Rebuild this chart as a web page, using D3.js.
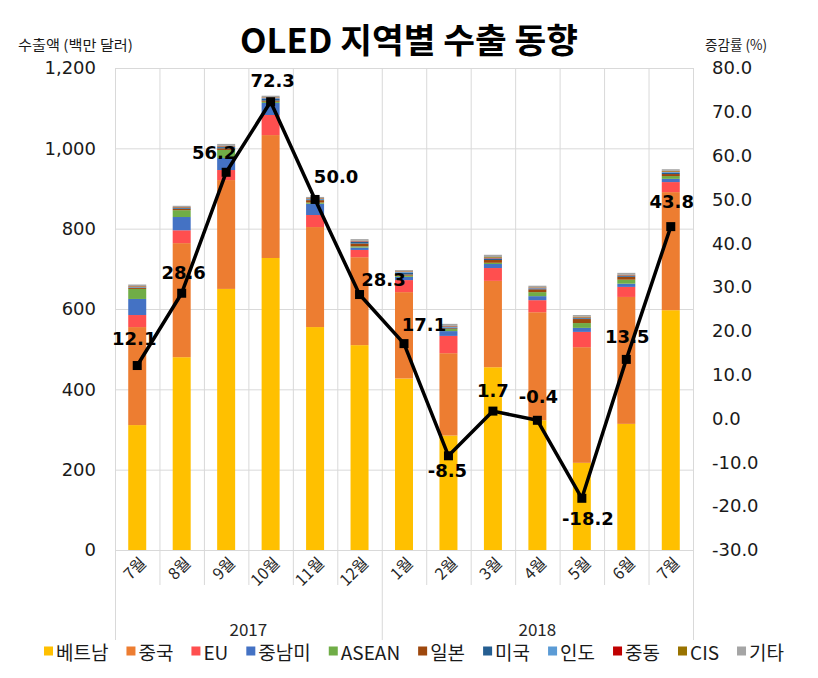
<!DOCTYPE html>
<html><head><meta charset="utf-8">
<script src="https://cdn.jsdelivr.net/npm/d3@7"></script>
<style>
body{margin:0;background:#fff;}
svg{display:block;}
</style></head>
<body>
<svg id="chart" width="818" height="678"></svg>
<script>
// ---- data ----
const months = ["7월","8월","9월","10월","11월","12월","1월","2월","3월","4월","5월","6월","7월"];
const years = [{label:"2017", from:0, to:6},{label:"2018", from:6, to:13}];
const seriesNames = ["베트남","중국","EU","중남미","ASEAN","일본","미국","인도","중동","CIS","기타"];
const vietnam = [311,480,650,727,555,510,427,285,455,323,217,314,597];
const china   = [244,284,271,306,249,219,215,205,215,269,288,316,294];
const eu      = [30,32,25,50,30,18,30,43,32,30,38,25,25];
const latam   = [40,33,30,30,28,6,8,12,10,10,10,8,8];
const asean   = [25,17,20,3,3,3,3,5,3,10,12,10,7];
const japan   = [3,3,4,3,6,7,3,2,7,7,10,7,5];
const usa     = [1,2,3,4,2,4,4,2,3,2,2,2,3];
const india   = [1,1,1,2,1,1,2,2,1,1,1,1,2];
const mideast = [1,1,1,1,1,1,1,1,1,1,1,1,1];
const cis     = [1,1,1,1,1,1,1,1,2,1,2,1,2];
const others  = [4,3,5,4,3,4,3,5,6,4,4,5,4];
const growth  = [12.1,28.6,56.2,72.3,50.0,28.3,17.1,-8.5,1.7,-0.4,-18.2,13.5,43.8];
const leftTicks = [0,200,400,600,800,1000,1200];
const rightTicks = [80,70,60,50,40,30,20,10,0,-10,-20,-30];
const colors = ["#FFC000","#ED7D31","#FF4F4F","#4472C4","#70AD47","#9E480E","#255E91","#5B9BD5","#C00000","#997300","#A5A5A5"];
// label placement offsets (annotation layout, px)
const labelDx = [-3,2,-12,2,21,24,20,-1,0,1,6,1,1];
const labelDy = [-27,-21,-20,-21,-23,-15,-19,15,-21,-24,20,-23,-25];

const seriesValues = [vietnam,china,eu,latam,asean,japan,usa,india,mideast,cis,others];

// ---- layout ----
const svg = d3.select("#chart");
const L = 115, R = 693, T = 68, B = 550;
const x = d3.scaleBand().domain(d3.range(months.length)).range([L,R]).paddingInner(0).paddingOuter(0);
const yL = d3.scaleLinear().domain([0,1200]).range([B,T]);
const yR = d3.scaleLinear().domain([-30,80]).range([B,T]);
const barW = 18;
const gridC = "#d9d9d9";
const tickFont = "'DejaVu Sans', Verdana, sans-serif";
const krFont = "'Noto Sans CJK KR', 'Noto Sans', sans-serif";
const loc = d3.formatLocale({decimal:".", thousands:",", grouping:[3], currency:["",""], minus:"-"});
const f1 = loc.format(".1f");

// horizontal gridlines
svg.append("g").attr("transform",`translate(${L},0)`)
  .call(d3.axisLeft(yL).tickValues(leftTicks).tickSize(-(R-L)).tickFormat(""))
  .call(g=>g.select(".domain").remove())
  .call(g=>g.selectAll("line").attr("stroke",gridC).attr("stroke-width",1));

// vertical gridlines at band boundaries
const bounds = d3.range(months.length+1).map(i => i<months.length ? x(i) : R);
svg.append("g").selectAll("line").data(bounds).join("line")
  .attr("x1",d=>d+0.5).attr("x2",d=>d+0.5).attr("y1",T).attr("y2",d=>{
    const isGroup = years.some(yy=>x(yy.from)===d) || d===R;
    return isGroup ? 640 : 585;
  })
  .attr("stroke",gridC).attr("stroke-width",1);

// stacked bars
const table = months.map((m,i)=>{
  const o = {i};
  seriesNames.forEach((s,k)=>o[s]=seriesValues[k][i]);
  return o;
});
const stack = d3.stack().keys(seriesNames)(table);
svg.append("g").selectAll("g").data(stack).join("g")
  .attr("fill",(d,k)=>colors[k])
  .selectAll("rect").data(d=>d).join("rect")
  .attr("x",d=>x(d.data.i)+x.bandwidth()/2-barW/2)
  .attr("width",barW)
  .attr("y",d=>yL(d[1]))
  .attr("height",d=>yL(d[0])-yL(d[1]));

// left axis labels
svg.append("g").attr("transform",`translate(${L},0)`)
  .call(d3.axisLeft(yL).tickValues(leftTicks).tickSize(0).tickPadding(19).tickFormat(loc.format(",")))
  .call(g=>g.select(".domain").remove())
  .call(g=>g.selectAll("text").attr("font-family",tickFont).attr("font-size",18).attr("fill","#1a1a1a"));

// right axis labels
svg.append("g").attr("transform",`translate(${R},0)`)
  .call(d3.axisRight(yR).tickValues(rightTicks).tickSize(0).tickPadding(19).tickFormat(f1))
  .call(g=>g.select(".domain").remove())
  .call(g=>g.selectAll("text").attr("font-family",tickFont).attr("font-size",18).attr("fill","#1a1a1a"));

// line
const cx = i => x(i)+x.bandwidth()/2;
svg.append("path").datum(growth)
  .attr("fill","none").attr("stroke","#000").attr("stroke-width",3.5).attr("stroke-linejoin","round")
  .attr("d",d3.line().x((d,i)=>cx(i)).y(d=>yR(d)));
svg.append("g").selectAll("rect").data(growth).join("rect")
  .attr("x",(d,i)=>cx(i)-4.5).attr("y",d=>yR(d)-4.5).attr("width",9).attr("height",9).attr("fill","#000");

// data labels
svg.append("g").selectAll("text").data(growth).join("text")
  .attr("x",(d,i)=>cx(i)+labelDx[i]).attr("y",(d,i)=>yR(d)+labelDy[i])
  .attr("text-anchor","middle").attr("dominant-baseline","central")
  .attr("font-family",tickFont).attr("font-weight","bold").attr("font-size",18).attr("fill","#000")
  .text(d=>f1(d));

// month labels
svg.append("g").selectAll("g").data(months).join("g")
  .attr("transform",(d,i)=>`translate(${cx(i)+6},${560})`)
  .append("text")
  .attr("transform","rotate(-45)")
  .attr("text-anchor","end").attr("dy","0.35em")
  .attr("font-family",krFont).attr("font-size",16).attr("fill","#262626")
  .text(d=>d);

// year labels
svg.append("g").selectAll("text").data(years).join("text")
  .attr("x",d=>(x(d.from)+(d.to<months.length?x(d.to):R))/2).attr("y",628)
  .attr("text-anchor","middle").attr("dominant-baseline","central")
  .attr("font-family",krFont).attr("font-size",17).attr("fill","#262626")
  .text(d=>d.label);

// title
svg.append("text").attr("x",409).attr("y",38)
  .attr("text-anchor","middle").attr("dominant-baseline","central")
  .attr("font-family",krFont).attr("font-weight","bold").attr("font-size",34)
  .attr("textLength",338).attr("lengthAdjust","spacingAndGlyphs")
  .attr("fill","#000").text("OLED 지역별 수출 동향");

// axis titles
svg.append("text").attr("x",18).attr("y",44).attr("dominant-baseline","central")
  .attr("font-family",krFont).attr("font-size",14).attr("textLength",115).attr("lengthAdjust","spacingAndGlyphs")
  .attr("fill","#1a1a1a").text("수출액 (백만 달러)");
svg.append("text").attr("x",705).attr("y",44).attr("dominant-baseline","central")
  .attr("font-family",krFont).attr("font-size",14).attr("textLength",62).attr("lengthAdjust","spacingAndGlyphs")
  .attr("fill","#1a1a1a").text("증감률 (%)");

// legend
const lg = svg.append("g");
const items = lg.selectAll("g").data(seriesNames).join("g");
items.append("rect").attr("width",9).attr("height",9).attr("y",-4.5).attr("fill",(d,k)=>colors[k]);
items.append("text").attr("x",12).attr("dominant-baseline","central")
  .attr("font-family",krFont).attr("font-size",19).attr("fill","#1a1a1a").text(d=>d);
let pos = 0; const gap = 18; const offs = [];
items.each(function(){ const w = this.querySelector("text").getComputedTextLength(); offs.push(pos); pos += 12 + w + gap; });
const total = pos - gap;
const startX = 414 - total/2;
items.attr("transform",(d,k)=>`translate(${startX+offs[k]},651)`);
</script>
</body></html>
